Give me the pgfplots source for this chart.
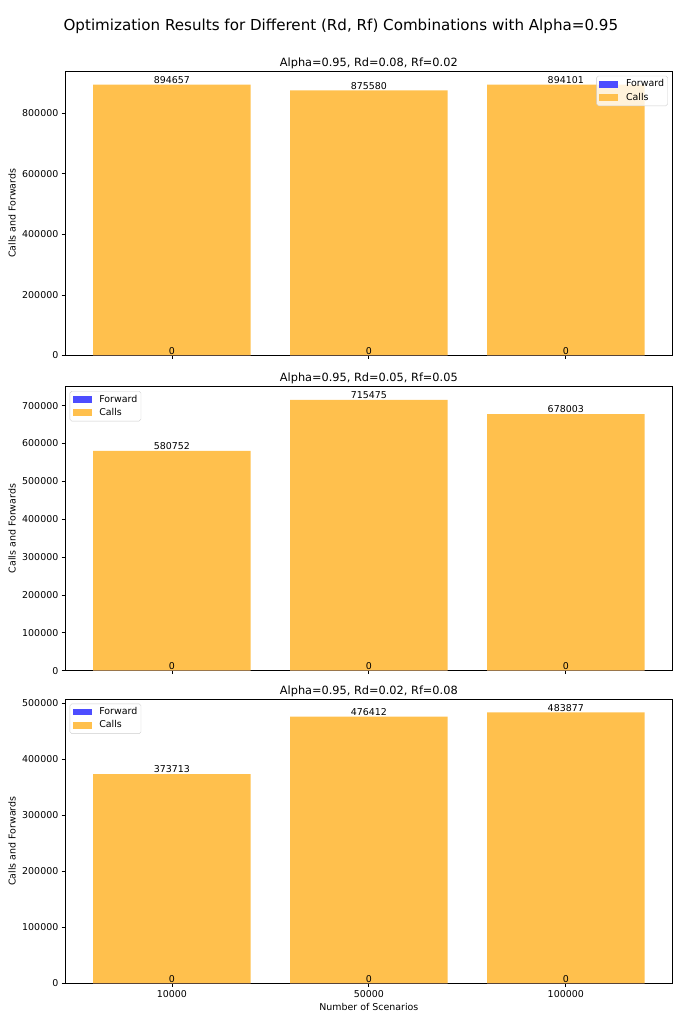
\documentclass[border=0pt]{standalone}
\usepackage{fontspec}
\setmainfont{DejaVu Sans}
\usepackage{pgfplots}
\pgfplotsset{compat=1.18}
\definecolor{fwd}{RGB}{77,77,255}
\definecolor{calls}{RGB}{255,192,77}
\definecolor{legedge}{RGB}{204,204,204}
\pgfplotsset{
 myaxis/.style={
  scale only axis, width=641bp, height=300bp,
  xmin=-0.543, xmax=2.543, ymin=0,
  xtick={0,1,2},
  tick pos=left, tick align=outside,
  major tick length=3.5bp,
  every tick/.style={black, line width=0.8bp},
  axis line style={line width=0.8bp},
  scaled y ticks=false,
  yticklabel style={/pgf/number format/fixed, /pgf/number format/1000 sep={}},
  /pgf/number format/assume math mode=true,
  ticklabel style={font=\fontsize{10}{12}\selectfont},
  ylabel={Calls and Forwards},
  ylabel style={font=\fontsize{10}{12}\selectfont},
  xlabel style={font=\fontsize{10}{12}\selectfont},
  title style={font=\fontsize{12}{14}\selectfont, yshift=-7bp},
  legend style={font=\fontsize{10}{12}\selectfont, draw=legedge, rounded corners=2bp, fill=white, fill opacity=0.8, text opacity=1, inner xsep=3bp, inner ysep=3bp, row sep=2.5bp,
    nodes={inner sep=1bp, text height=7.5bp, text depth=2bp},
    /tikz/every odd column/.append style={column sep=7bp}},
  legend cell align=left,
  nodes near coords, point meta=explicit symbolic,
  every node near coord/.append style={font=\fontsize{10}{12}\selectfont, anchor=south, inner sep=1bp, text=black},
 },
 fwdplot/.style={ybar, bar width=0.8, bar shift=0pt, draw=none, fill=fwd,
   legend image code/.code={\fill[fwd, sharp corners, fill opacity=1] (0bp,-3.5bp) rectangle (20bp,3.5bp);}},
 callplot/.style={ybar, bar width=0.8, bar shift=0pt, draw=none, fill=calls,
   legend image code/.code={\fill[calls, sharp corners, fill opacity=1] (0bp,-3.5bp) rectangle (20bp,3.5bp);}},
}
\begin{document}
\begin{tikzpicture}
\useasboundingbox (0,0) rectangle (720bp,-1080bp);
\node[font=\fontsize{16}{19}\selectfont] at (359.5bp,-27.4bp) {Optimization Results for Different (Rd, Rf) Combinations with Alpha=0.95};

\begin{axis}[myaxis, at={(68.5bp,-74.9bp)}, anchor=north west,
  ymax=939390, ytick={0,200000,400000,600000,800000},
  xticklabels={},
  title={Alpha=0.95, Rd=0.08, Rf=0.02},
  legend style={at={(1,1)}, anchor=north east, xshift=-5bp, yshift=-5bp}]
\addplot[callplot, forget plot] coordinates {(0,894657) [894657] (1,875580) [875580] (2,894101) [894101]};
\addplot[fwdplot] coordinates {(0,0) [0] (1,0) [0] (2,0) [0]};
\addlegendentry{Forward}
\addlegendimage{callplot}
\addlegendentry{Calls}
\end{axis}

\begin{axis}[myaxis, at={(68.5bp,-407.4bp)}, anchor=north west,
  ymax=751249, ytick={0,100000,200000,300000,400000,500000,600000,700000},
  xticklabels={},
  title={Alpha=0.95, Rd=0.05, Rf=0.05},
  legend style={at={(0,1)}, anchor=north west, xshift=5bp, yshift=-5bp}]
\addplot[callplot, forget plot] coordinates {(0,580752) [580752] (1,715475) [715475] (2,678003) [678003]};
\addplot[fwdplot] coordinates {(0,0) [0] (1,0) [0] (2,0) [0]};
\addlegendentry{Forward}
\addlegendimage{callplot}
\addlegendentry{Calls}
\end{axis}

\begin{axis}[myaxis, at={(68.5bp,-737.1bp)}, anchor=north west,
  ymax=508071, ytick={0,100000,200000,300000,400000,500000},
  xticklabels={10000,50000,100000},
  xlabel={Number of Scenarios},
  title={Alpha=0.95, Rd=0.02, Rf=0.08},
  legend style={at={(0,1)}, anchor=north west, xshift=5bp, yshift=-5bp}]
\addplot[callplot, forget plot] coordinates {(0,373713) [373713] (1,476412) [476412] (2,483877) [483877]};
\addplot[fwdplot] coordinates {(0,0) [0] (1,0) [0] (2,0) [0]};
\addlegendentry{Forward}
\addlegendimage{callplot}
\addlegendentry{Calls}
\end{axis}
\end{tikzpicture}
\end{document}
